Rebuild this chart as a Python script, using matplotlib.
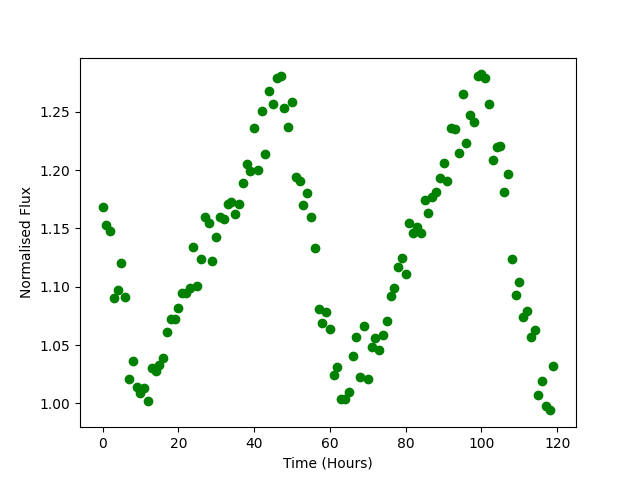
import matplotlib
matplotlib.use("Agg")
import matplotlib.pyplot as plt

# hourly samples, values
time = list(range(0, 120))
flux = [
    1.168, 1.153, 1.148, 1.090, 1.097, 1.120, 1.091, 1.021, 1.036, 1.014,
    1.009, 1.013, 1.002, 1.030, 1.028, 1.033, 1.039, 1.061, 1.072, 1.072,
    1.082, 1.095, 1.095, 1.099, 1.134, 1.101, 1.124, 1.160, 1.155, 1.122,
    1.143, 1.160, 1.158, 1.171, 1.173, 1.162, 1.171, 1.189, 1.205, 1.199,
    1.236, 1.200, 1.251, 1.214, 1.268, 1.257, 1.279, 1.281, 1.253, 1.237,
    1.258, 1.194, 1.191, 1.170, 1.180, 1.160, 1.133, 1.081, 1.069, 1.078,
    1.064, 1.024, 1.031, 1.004, 1.004, 1.010, 1.041, 1.057, 1.023, 1.066,
    1.021, 1.048, 1.056, 1.046, 1.059, 1.071, 1.092, 1.099, 1.117, 1.125,
    1.111, 1.155, 1.146, 1.151, 1.146, 1.174, 1.163, 1.177, 1.181, 1.193,
    1.206, 1.191, 1.236, 1.235, 1.215, 1.265, 1.223, 1.247, 1.241, 1.281,
    1.282, 1.279, 1.257, 1.209, 1.220, 1.221, 1.181, 1.197, 1.124, 1.093,
    1.104, 1.074, 1.079, 1.057, 1.063, 1.007, 1.019, 0.998, 0.994, 1.032,
]

plt.figure(figsize=(6.4, 4.8), dpi=100)
plt.plot(time, flux, "o", color="green")
plt.xlabel("Time (Hours)")
plt.ylabel("Normalised Flux")
plt.savefig("out.png")
